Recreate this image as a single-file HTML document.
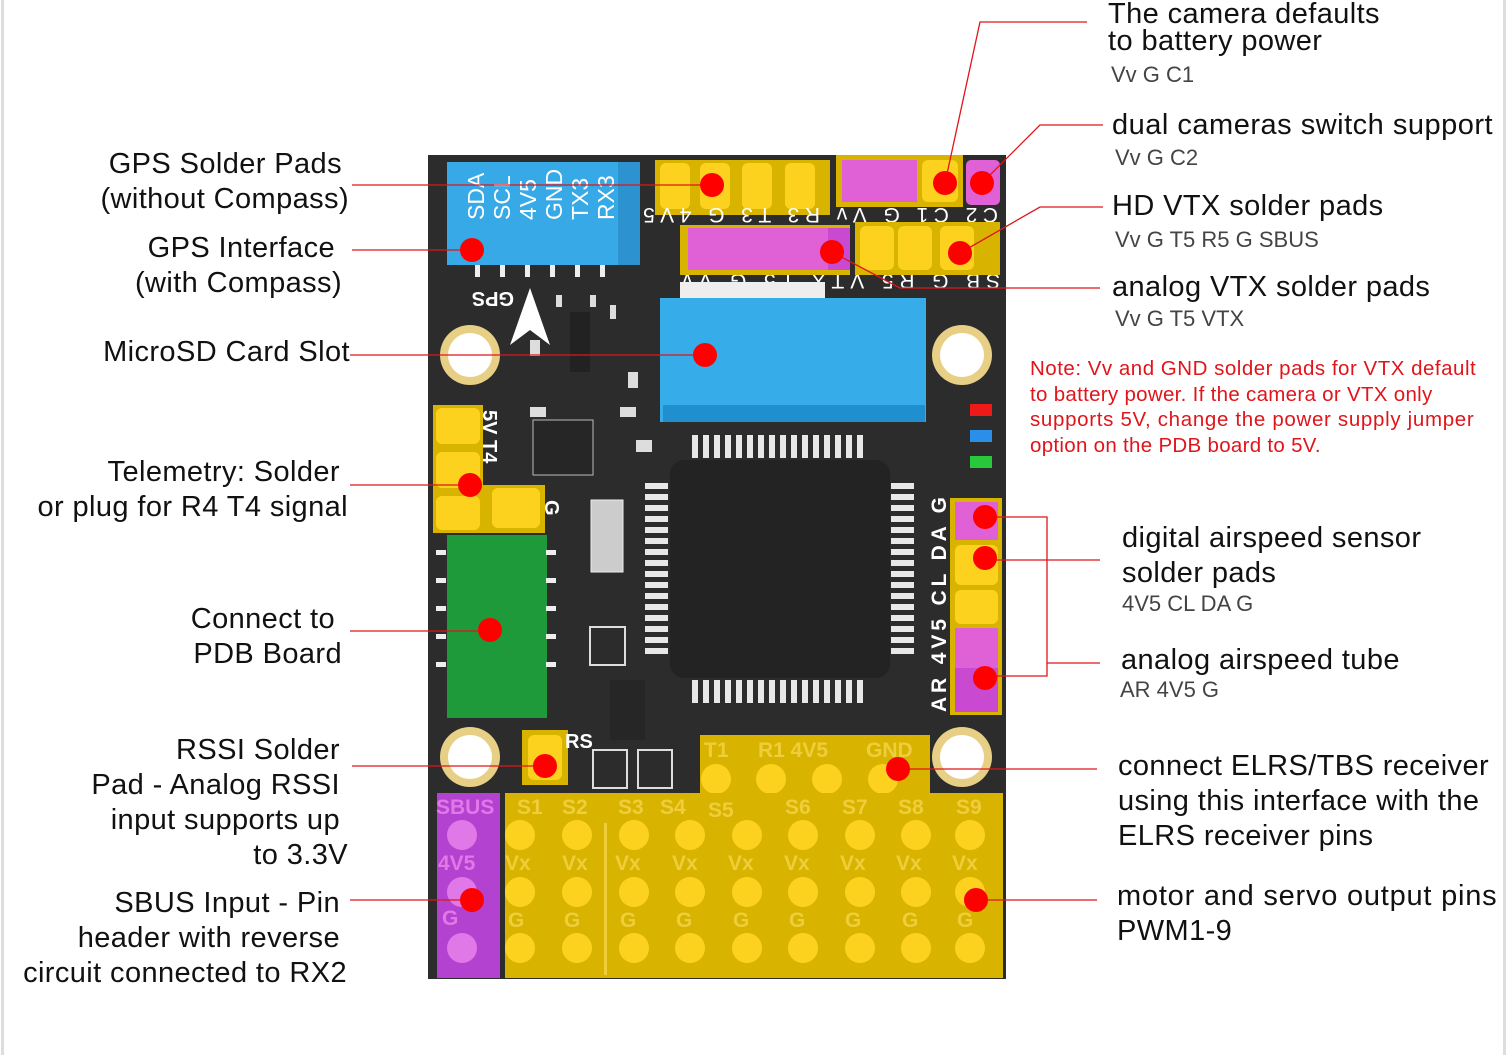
<!DOCTYPE html>
<html><head><meta charset="utf-8"><style>
html,body{margin:0;padding:0;background:#fff}
svg{display:block}
.t{font-family:"Liberation Sans",sans-serif;fill:#111;font-size:29px;letter-spacing:0.4px}
.s{font-family:"Liberation Sans",sans-serif;fill:#444;font-size:22px}
.n{font-family:"Liberation Sans",sans-serif;fill:#e0151b;font-size:20.5px;letter-spacing:0.3px}
.b{font-family:"Liberation Sans",sans-serif;font-weight:bold}
</style></head><body>
<svg width="1508" height="1055" viewBox="0 0 1508 1055" xmlns="http://www.w3.org/2000/svg">
<defs>
<pattern id="pv" x="692" y="0" width="11" height="30" patternUnits="userSpaceOnUse"><rect x="0" y="0" width="6" height="30" fill="#e8e8e8"/></pattern>
<pattern id="ph" x="0" y="483" width="30" height="11" patternUnits="userSpaceOnUse"><rect x="0" y="0" width="30" height="6" fill="#e8e8e8"/></pattern>
</defs>
<rect x="0" y="0" width="1508" height="1055" fill="#fff"/>
<rect x="1" y="0" width="3" height="1055" fill="#ddd"/>
<rect x="1503" y="0" width="3" height="1055" fill="#ddd"/>

<rect x="428" y="155" width="578" height="824" fill="#2c2c2c"/>
<rect x="447" y="162" width="193" height="103" fill="#36a9e6"/>
<rect x="618" y="162" width="22" height="103" fill="#2d92d0"/>
<g fill="#eee"><rect x="475" y="265" width="5" height="12"/><rect x="500" y="265" width="5" height="12"/><rect x="525" y="265" width="5" height="12"/><rect x="550" y="265" width="5" height="12"/><rect x="575" y="265" width="5" height="12"/><rect x="600" y="265" width="5" height="12"/></g>
<g font-size="23" fill="#fff" font-family="Liberation Sans,sans-serif">
<text transform="translate(484,220) rotate(-90)">SDA</text>
<text transform="translate(510,220) rotate(-90)">SCL</text>
<text transform="translate(536,220) rotate(-90)">4V5</text>
<text transform="translate(562,220) rotate(-90)">GND</text>
<text transform="translate(588,220) rotate(-90)">TX3</text>
<text transform="translate(614,220) rotate(-90)">RX3</text>
</g>
<text transform="translate(514,292) rotate(180)" class="b" font-size="20" fill="#fff">GPS</text>
<polygon points="530,288 510,345 530,330 550,345" fill="#fff"/>
<rect x="655" y="160" width="175" height="55" fill="#d8b400"/>
<g fill="#fcd21f"><rect x="660" y="163" width="30" height="46" rx="6"/><rect x="700" y="163" width="30" height="46" rx="6"/><rect x="742" y="163" width="30" height="46" rx="6"/><rect x="785" y="163" width="30" height="46" rx="6"/></g>
<rect x="836" y="155" width="127" height="52" fill="#d8b400"/>
<rect x="842" y="160" width="75" height="42" fill="#e060d6"/>
<rect x="922" y="160" width="36" height="42" rx="6" fill="#fcd21f"/>
<rect x="966" y="160" width="34" height="45" rx="5" fill="#e060d6"/>
<g font-size="21" fill="#fff" font-family="Liberation Sans,sans-serif">
<text transform="translate(998,208) rotate(180)" textLength="355" lengthAdjust="spacing">C2  C1  G  Vv  R3  T3  G  4V5</text>
<text transform="translate(1000,274) rotate(180)" textLength="318" lengthAdjust="spacing">SB   G  R5  VTX  T5  G  Vv</text>
</g>
<rect x="680" y="225" width="170" height="50" fill="#d8b400"/>
<rect x="688" y="228" width="140" height="42" fill="#e060d6"/>
<rect x="828" y="228" width="22" height="42" fill="#c94ad0"/>
<rect x="855" y="222" width="145" height="53" fill="#d8b400"/>
<g fill="#fcd21f"><rect x="860" y="226" width="34" height="44" rx="6"/><rect x="898" y="226" width="34" height="44" rx="6"/><rect x="940" y="226" width="34" height="44" rx="6"/></g>
<rect x="660" y="298" width="266" height="124" fill="#36ade8"/>
<rect x="663" y="405" width="262" height="17" fill="#1f8fd0"/>
<rect x="680" y="282" width="145" height="16" fill="#eee"/>
<g><circle cx="470" cy="355" r="30" fill="#e8cf86"/><circle cx="470" cy="355" r="22" fill="#fff"/>
<circle cx="962" cy="355" r="30" fill="#e8cf86"/><circle cx="962" cy="355" r="22" fill="#fff"/>
<circle cx="470" cy="757" r="30" fill="#e8cf86"/><circle cx="470" cy="757" r="22" fill="#fff"/>
<circle cx="962" cy="757" r="30" fill="#e8cf86"/><circle cx="962" cy="757" r="22" fill="#fff"/></g>
<g fill="#ddd"><rect x="556" y="295" width="6" height="12"/><rect x="590" y="295" width="6" height="12"/><rect x="530" y="407" width="16" height="10"/><rect x="620" y="407" width="16" height="10"/><rect x="628" y="372" width="10" height="16"/><rect x="530" y="340" width="10" height="16"/><rect x="610" y="305" width="6" height="14"/><rect x="636" y="440" width="16" height="12"/></g>
<rect x="533" y="420" width="60" height="55" fill="#262626" stroke="#bbb" stroke-width="1"/>
<rect x="570" y="312" width="20" height="60" fill="#222"/>
<rect x="591" y="500" width="32" height="72" fill="#ccc" stroke="#eee"/>
<rect x="590" y="627" width="35" height="38" fill="none" stroke="#ddd" stroke-width="2"/>
<rect x="610" y="680" width="35" height="60" fill="#262626"/>
<rect x="593" y="750" width="34" height="38" fill="none" stroke="#ddd" stroke-width="2"/>
<rect x="638" y="750" width="34" height="38" fill="none" stroke="#ddd" stroke-width="2"/>
<rect x="970" y="404" width="22" height="12" fill="#ee1a1a"/>
<rect x="970" y="430" width="22" height="12" fill="#2a8fe8"/>
<rect x="970" y="456" width="22" height="12" fill="#27c93a"/>
<rect x="692" y="435" width="176" height="23" fill="url(#pv)"/>
<rect x="692" y="680" width="176" height="23" fill="url(#pv)"/>
<rect x="645" y="483" width="23" height="176" fill="url(#ph)"/>
<rect x="891" y="483" width="23" height="176" fill="url(#ph)"/>
<rect x="670" y="460" width="220" height="218" rx="14" fill="#232323"/>
<rect x="433" y="405" width="50" height="128" fill="#d8b400"/>
<rect x="483" y="485" width="62" height="48" fill="#d8b400"/>
<g fill="#fcd21f"><rect x="436" y="408" width="44" height="36" rx="6"/><rect x="436" y="452" width="44" height="36" rx="6"/><rect x="436" y="496" width="44" height="34" rx="6"/><rect x="492" y="488" width="48" height="40" rx="6"/></g>
<g fill="#fff" font-family="Liberation Sans,sans-serif" class="b" font-size="20"><text transform="translate(483,410) rotate(90)">5V  T4</text><text transform="translate(545,500) rotate(90)">G</text></g>
<rect x="447" y="535" width="100" height="183" fill="#1e9a3a"/>
<g fill="#eee"><rect x="436" y="550" width="10" height="5"/><rect x="436" y="578" width="10" height="5"/><rect x="436" y="606" width="10" height="5"/><rect x="436" y="634" width="10" height="5"/><rect x="436" y="662" width="10" height="5"/><rect x="546" y="550" width="10" height="5"/><rect x="546" y="578" width="10" height="5"/><rect x="546" y="606" width="10" height="5"/><rect x="546" y="634" width="10" height="5"/><rect x="546" y="662" width="10" height="5"/></g>
<rect x="950" y="498" width="52" height="217" fill="#d8b400"/>
<rect x="955" y="502" width="43" height="38" fill="#e060d6"/>
<rect x="955" y="545" width="43" height="40" rx="6" fill="#fcd21f"/>
<rect x="955" y="590" width="43" height="34" rx="6" fill="#fcd21f"/>
<rect x="955" y="628" width="43" height="40" fill="#e060d6"/>
<rect x="955" y="668" width="43" height="44" fill="#c94ad0"/>
<text transform="translate(946,712) rotate(-90)" class="b" font-size="21" fill="#fff" textLength="215" lengthAdjust="spacing">AR  4V5  CL  DA   G</text>
<rect x="522" y="730" width="46" height="55" fill="#d8b400"/>
<rect x="528" y="735" width="34" height="45" rx="6" fill="#fcd21f"/>
<text x="565" y="748" class="b" font-size="20" fill="#fff">RS</text>
<rect x="700" y="735" width="230" height="60" fill="#d8b400"/>
<g fill="#fcd21f"><circle cx="716" cy="779" r="15"/><circle cx="771" cy="779" r="15"/><circle cx="827" cy="779" r="15"/><circle cx="883" cy="779" r="15"/></g>
<g class="b" font-size="21" fill="#f0cd3a"><text x="704" y="757">T1</text><text x="758" y="757">R1 4V5</text><text x="866" y="757">GND</text></g>
<rect x="437" y="793" width="63" height="185" fill="#b442d0"/>
<g fill="#e078e8"><circle cx="462" cy="835" r="15"/><circle cx="462" cy="892" r="15"/><circle cx="462" cy="948" r="15"/></g>
<g class="b" font-size="21" fill="#e078e8"><text x="436" y="814">SBUS</text><text x="438" y="870">4V5</text><text x="442" y="925">G</text></g>
<rect x="505" y="793" width="498" height="185" fill="#d8b400"/>
<g fill="#fcd21f">
<circle cx="520" cy="835" r="15"/><circle cx="577" cy="835" r="15"/><circle cx="634" cy="835" r="15"/><circle cx="690" cy="835" r="15"/><circle cx="747" cy="835" r="15"/><circle cx="803" cy="835" r="15"/><circle cx="860" cy="835" r="15"/><circle cx="916" cy="835" r="15"/><circle cx="970" cy="835" r="15"/>
<circle cx="520" cy="892" r="15"/><circle cx="577" cy="892" r="15"/><circle cx="634" cy="892" r="15"/><circle cx="690" cy="892" r="15"/><circle cx="747" cy="892" r="15"/><circle cx="803" cy="892" r="15"/><circle cx="860" cy="892" r="15"/><circle cx="916" cy="892" r="15"/><circle cx="970" cy="892" r="15"/>
<circle cx="520" cy="948" r="15"/><circle cx="577" cy="948" r="15"/><circle cx="634" cy="948" r="15"/><circle cx="690" cy="948" r="15"/><circle cx="747" cy="948" r="15"/><circle cx="803" cy="948" r="15"/><circle cx="860" cy="948" r="15"/><circle cx="916" cy="948" r="15"/><circle cx="970" cy="948" r="15"/>
</g>
<rect x="604" y="823" width="3" height="152" fill="#f0cd3a"/>
<g class="b" font-size="21" fill="#f0cd3a">
<text x="517" y="814">S1</text><text x="562" y="814">S2</text><text x="618" y="814">S3</text><text x="660" y="814">S4</text><text x="708" y="817">S5</text><text x="785" y="814">S6</text><text x="842" y="814">S7</text><text x="898" y="814">S8</text><text x="956" y="814">S9</text>
<text x="505" y="870">Vx</text><text x="562" y="870">Vx</text><text x="615" y="870">Vx</text><text x="672" y="870">Vx</text><text x="728" y="870">Vx</text><text x="784" y="870">Vx</text><text x="840" y="870">Vx</text><text x="896" y="870">Vx</text><text x="952" y="870">Vx</text>
<text x="508" y="927">G</text><text x="564" y="927">G</text><text x="620" y="927">G</text><text x="676" y="927">G</text><text x="733" y="927">G</text><text x="789" y="927">G</text><text x="845" y="927">G</text><text x="902" y="927">G</text><text x="957" y="927">G</text>
</g>

<g stroke="#e0151b" stroke-width="1.3" fill="none">
<line x1="352" y1="185" x2="712" y2="185"/>
<line x1="352" y1="250" x2="472" y2="250"/>
<line x1="350" y1="355" x2="705" y2="355"/>
<line x1="350" y1="485" x2="470" y2="485"/>
<line x1="350" y1="631" x2="490" y2="631"/>
<line x1="352" y1="766" x2="545" y2="766"/>
<line x1="350" y1="900" x2="472" y2="900"/>
<polyline points="1087,22 980,22 945,183"/>
<polyline points="1103,125 1040,125 982,183"/>
<polyline points="1103,207 1040,207 960,253"/>
<polyline points="832,252 900,288 1100,288"/>
<polyline points="985,517 1047,517 1047,676 985,676"/>
<line x1="985" y1="560" x2="1100" y2="560"/>
<line x1="1047" y1="663" x2="1100" y2="663"/>
<line x1="898" y1="769" x2="1097" y2="769"/>
<line x1="976" y1="900" x2="1097" y2="900"/>
</g>
<g fill="#f00">
<circle cx="712" cy="185" r="12"/><circle cx="472" cy="250" r="12"/><circle cx="705" cy="355" r="12"/><circle cx="470" cy="485" r="12"/><circle cx="490" cy="630" r="12"/><circle cx="545" cy="766" r="12"/><circle cx="472" cy="900" r="12"/>
<circle cx="945" cy="183" r="12"/><circle cx="982" cy="183" r="12"/><circle cx="960" cy="253" r="12"/><circle cx="832" cy="252" r="12"/>
<circle cx="985" cy="517" r="12"/><circle cx="985" cy="558" r="12"/><circle cx="985" cy="678" r="12"/><circle cx="898" cy="769" r="12"/><circle cx="976" cy="900" r="12"/>
</g>

<g class="t" text-anchor="end">
<text x="342" y="173">GPS Solder Pads</text>
<text x="349" y="208">(without Compass)</text>
<text x="335" y="257">GPS Interface</text>
<text x="342" y="292">(with Compass)</text>
<text x="350" y="361">MicroSD Card Slot</text>
<text x="340" y="481">Telemetry: Solder</text>
<text x="348" y="516">or plug for R4 T4 signal</text>
<text x="335" y="628">Connect to</text>
<text x="342" y="663">PDB Board</text>
<text x="340" y="759">RSSI Solder</text>
<text x="340" y="794">Pad - Analog RSSI</text>
<text x="340" y="829">input supports up</text>
<text x="348" y="864">to 3.3V</text>
<text x="340" y="912">SBUS Input - Pin</text>
<text x="340" y="947">header with reverse</text>
<text x="347" y="982">circuit connected to RX2</text>
</g>
<g class="t">
<text x="1108" y="23">The camera defaults</text>
<text x="1108" y="50">to battery power</text>
<text x="1112" y="134" textLength="381" lengthAdjust="spacing">dual cameras switch support</text>
<text x="1112" y="215">HD VTX solder pads</text>
<text x="1112" y="296">analog VTX solder pads</text>
<text x="1122" y="547">digital airspeed sensor</text>
<text x="1122" y="582">solder pads</text>
<text x="1121" y="669">analog airspeed tube</text>
<text x="1118" y="775">connect ELRS/TBS receiver</text>
<text x="1118" y="810">using this interface with the</text>
<text x="1118" y="845">ELRS receiver pins</text>
<text x="1117" y="905" textLength="380" lengthAdjust="spacing">motor and servo output pins</text>
<text x="1117" y="940">PWM1-9</text>
</g>
<g class="s">
<text x="1111" y="82">Vv G C1</text>
<text x="1115" y="165">Vv G C2</text>
<text x="1115" y="247">Vv G T5 R5 G SBUS</text>
<text x="1115" y="326">Vv G T5 VTX</text>
<text x="1122" y="611">4V5 CL DA G</text>
<text x="1120" y="697">AR 4V5 G</text>
</g>
<g class="n">
<text x="1030" y="375" textLength="446" lengthAdjust="spacing">Note: Vv and GND solder pads for VTX default</text>
<text x="1030" y="401">to battery power. If the camera or VTX only</text>
<text x="1030" y="426" textLength="444" lengthAdjust="spacing">supports 5V, change the power supply jumper</text>
<text x="1030" y="452">option on the PDB board to 5V.</text>
</g>
</svg>
</body></html>
